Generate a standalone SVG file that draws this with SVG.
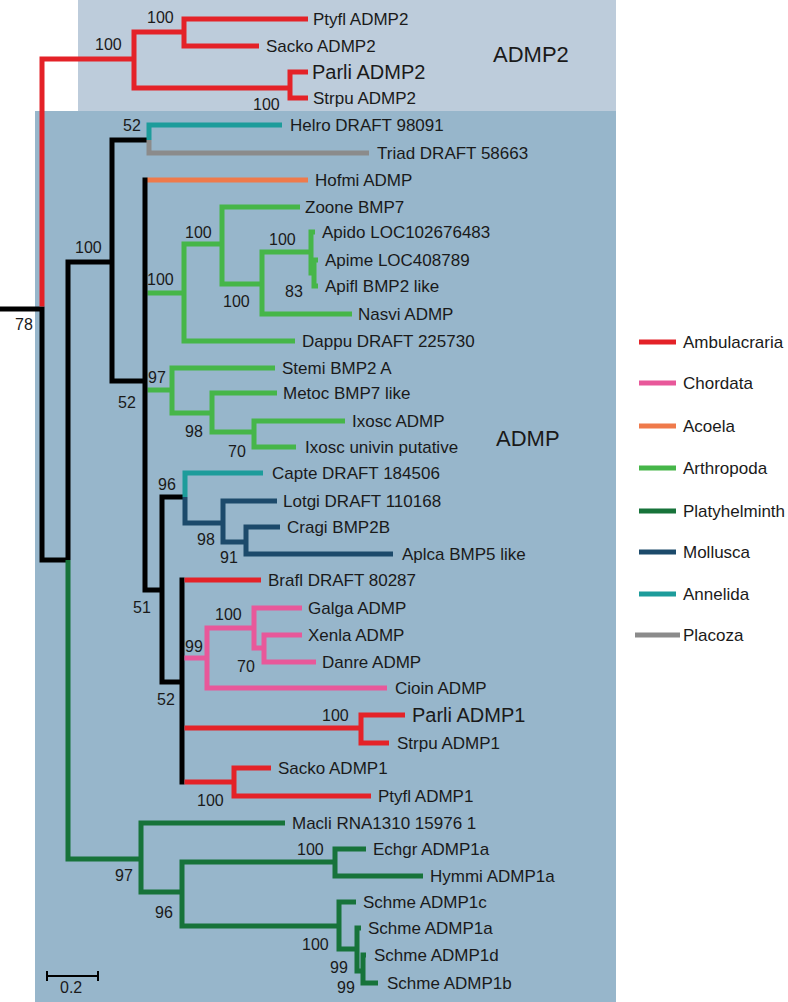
<svg xmlns="http://www.w3.org/2000/svg" width="788" height="1002" viewBox="0 0 788 1002">
<style>
text{font-family:"Liberation Sans",Arial,sans-serif;fill:#1a1a1a}
.t{font-size:17px}
.tl{font-size:20px}
.bs{font-size:16px}
.cl{font-size:22px}
.br path{fill:none;stroke-width:5;stroke-linejoin:miter;stroke-linecap:butt}
.k{stroke:#000}
.r{stroke:#e42228}
.p{stroke:#e8589a}
.o{stroke:#ef7a4b}
.g{stroke:#46b649}
.d{stroke:#17733a}
.n{stroke:#1c4a6b}
.c{stroke:#1d9c9b}
.y{stroke:#8b8b8b}
.lg{stroke-width:6}
</style>
<rect x="78" y="0" width="538" height="111" fill="#bdccdb"/>
<rect x="35" y="111" width="581" height="891" fill="#97b6cb"/>
<g id="clade-labels">
<text class="cl" x="493" y="62">ADMP2</text>
<text class="cl" x="496" y="446">ADMP</text>
</g>
<g id="branches" class="br">
<path class="k" d="M0,309 H42 V560 H68"/>
<path class="r" d="M134,59 H42 V306.5"/>
<path class="r" d="M184,32 H134 V88 H290"/>
<path class="r" d="M308,19 H184 V46 H259"/>
<path class="r" d="M308,72 H290 V98 H308"/>
<path class="k" d="M112,262 H68 V560"/>
<path class="d" d="M68,560 V859 H141"/>
<path class="k" d="M150,140 H112 V381 H145"/>
<path class="c" d="M282,125 H149 V140"/>
<path class="y" d="M369,153 H149 V140"/>
<path class="o" d="M147,180 H308"/>
<path class="g" d="M147.5,293 H184"/>
<path class="g" d="M147.5,390 H172"/>
<path class="k" d="M147.5,180 H145 V590 H162"/>
<path class="g" d="M222,244 H184 V341 H295"/>
<path class="g" d="M300,207 H222 V284 H262"/>
<path class="g" d="M311,252 H262 V314 H352"/>
<path class="g" d="M315,232 H311 V273 H314"/>
<path class="g" d="M318,260 H314 V286 H318"/>
<path class="g" d="M275,368 H172 V413 H212"/>
<path class="g" d="M277,393 H212 V432 H254"/>
<path class="g" d="M345,421 H254 V447 H296"/>
<path class="k" d="M185,497 H162 V682 H182"/>
<path class="c" d="M263,473 H185 V497"/>
<path class="n" d="M185,497 V523 H223"/>
<path class="n" d="M277,501 H223 V542 H246"/>
<path class="n" d="M280,527 H246 V554 H393"/>
<path class="k" d="M184.5,580 H182 V782 H184.5"/>
<path class="r" d="M184.5,580 H261"/>
<path class="p" d="M184.5,658 H207"/>
<path class="p" d="M254,628 H207 V688 H387"/>
<path class="p" d="M302,608 H254 V648 H264"/>
<path class="p" d="M302,635 H264 V662 H316"/>
<path class="r" d="M184.5,728 H361"/>
<path class="r" d="M405,715 H361 V743 H389"/>
<path class="r" d="M184.5,782 H234"/>
<path class="r" d="M271,768 H234 V796 H371"/>
<path class="d" d="M285,823 H141 V892 H182"/>
<path class="d" d="M335,862 H182 V926 H339"/>
<path class="d" d="M366,849 H335 V876 H423"/>
<path class="d" d="M356,902 H339 V949 H357"/>
<path class="d" d="M361,928 H357 V971 H363"/>
<path class="d" d="M366,955 H363 V983 H378"/>
</g>
<g id="tips">
<g id="tip-ptyfl-admp2"><text class="t" x="313" y="25">Ptyfl ADMP2</text></g>
<g id="tip-sacko-admp2"><text class="t" x="266" y="52">Sacko ADMP2</text></g>
<g id="tip-parli-admp2"><text class="tl" x="312" y="79">Parli ADMP2</text></g>
<g id="tip-strpu-admp2"><text class="t" x="313" y="104">Strpu ADMP2</text></g>
<g id="tip-helro"><text class="t" x="290" y="131">Helro DRAFT 98091</text></g>
<g id="tip-triad"><text class="t" x="377" y="159">Triad DRAFT 58663</text></g>
<g id="tip-hofmi"><text class="t" x="315" y="186">Hofmi ADMP</text></g>
<g id="tip-zoone"><text class="t" x="305" y="213">Zoone BMP7</text></g>
<g id="tip-apido"><text class="t" x="322" y="238">Apido LOC102676483</text></g>
<g id="tip-apime"><text class="t" x="325" y="266">Apime LOC408789</text></g>
<g id="tip-apifl"><text class="t" x="325" y="292">Apifl BMP2 like</text></g>
<g id="tip-nasvi"><text class="t" x="358" y="320">Nasvi ADMP</text></g>
<g id="tip-dappu"><text class="t" x="302" y="347">Dappu DRAFT 225730</text></g>
<g id="tip-stemi"><text class="t" x="282" y="374">Stemi BMP2 A</text></g>
<g id="tip-metoc"><text class="t" x="283" y="399">Metoc BMP7 like</text></g>
<g id="tip-ixosc-admp"><text class="t" x="352" y="427">Ixosc ADMP</text></g>
<g id="tip-ixosc-univin"><text class="t" x="305" y="453">Ixosc univin putative</text></g>
<g id="tip-capte"><text class="t" x="272" y="479">Capte DRAFT 184506</text></g>
<g id="tip-lotgi"><text class="t" x="283" y="507">Lotgi DRAFT 110168</text></g>
<g id="tip-cragi"><text class="t" x="287" y="533">Cragi BMP2B</text></g>
<g id="tip-aplca"><text class="t" x="402" y="560">Aplca BMP5 like</text></g>
<g id="tip-brafl"><text class="t" x="268" y="586">Brafl DRAFT 80287</text></g>
<g id="tip-galga"><text class="t" x="308" y="614">Galga ADMP</text></g>
<g id="tip-xenla"><text class="t" x="308" y="641">Xenla ADMP</text></g>
<g id="tip-danre"><text class="t" x="322" y="668">Danre ADMP</text></g>
<g id="tip-cioin"><text class="t" x="395" y="694">Cioin ADMP</text></g>
<g id="tip-parli-admp1"><text class="tl" x="412" y="722">Parli ADMP1</text></g>
<g id="tip-strpu-admp1"><text class="t" x="397" y="749">Strpu ADMP1</text></g>
<g id="tip-sacko-admp1"><text class="t" x="278" y="774">Sacko ADMP1</text></g>
<g id="tip-ptyfl-admp1"><text class="t" x="378" y="802">Ptyfl ADMP1</text></g>
<g id="tip-macli"><text class="t" x="292" y="829">Macli RNA1310 15976 1</text></g>
<g id="tip-echgr"><text class="t" x="373" y="855">Echgr ADMP1a</text></g>
<g id="tip-hymmi"><text class="t" x="430" y="882">Hymmi ADMP1a</text></g>
<g id="tip-schme-c"><text class="t" x="363" y="908">Schme ADMP1c</text></g>
<g id="tip-schme-a"><text class="t" x="368" y="934">Schme ADMP1a</text></g>
<g id="tip-schme-d"><text class="t" x="374" y="961">Schme ADMP1d</text></g>
<g id="tip-schme-b"><text class="t" x="387" y="989">Schme ADMP1b</text></g>
</g>
<g id="support" class="bs">
<text class="bs" x="95" y="50">100</text>
<text class="bs" x="147" y="23">100</text>
<text class="bs" x="253" y="110">100</text>
<text class="bs" x="123" y="131">52</text>
<text class="bs" x="75" y="253">100</text>
<text class="bs" x="15" y="330">78</text>
<text class="bs" x="147" y="285">100</text>
<text class="bs" x="185" y="238">100</text>
<text class="bs" x="269" y="245">100</text>
<text class="bs" x="285" y="297">83</text>
<text class="bs" x="223" y="307">100</text>
<text class="bs" x="148" y="383">97</text>
<text class="bs" x="118" y="408">52</text>
<text class="bs" x="185" y="437">98</text>
<text class="bs" x="228" y="457">70</text>
<text class="bs" x="158" y="490">96</text>
<text class="bs" x="197" y="545">98</text>
<text class="bs" x="220" y="563">91</text>
<text class="bs" x="133" y="613">51</text>
<text class="bs" x="215" y="620">100</text>
<text class="bs" x="185" y="652">99</text>
<text class="bs" x="237" y="672">70</text>
<text class="bs" x="157" y="705">52</text>
<text class="bs" x="322" y="721">100</text>
<text class="bs" x="197" y="806">100</text>
<text class="bs" x="297" y="855">100</text>
<text class="bs" x="115" y="881">97</text>
<text class="bs" x="155" y="918">96</text>
<text class="bs" x="302" y="950">100</text>
<text class="bs" x="330" y="973">99</text>
<text class="bs" x="337" y="993">99</text>
</g>
<g id="scale-bar">
<path d="M47,971 V981 M47,976 H98 M98,971 V981" fill="none" stroke="#000" stroke-width="2"/>
<text class="bs" x="60" y="993">0.2</text>
</g>
<g id="legend" class="br">
<g id="legend-ambulacraria"><path class="r lg" d="M639,342 H676"/><text class="t" x="683" y="348">Ambulacraria</text></g>
<g id="legend-chordata"><path class="p lg" d="M639,383 H676"/><text class="t" x="683" y="389">Chordata</text></g>
<g id="legend-acoela"><path class="o lg" d="M639,426 H676"/><text class="t" x="683" y="432">Acoela</text></g>
<g id="legend-arthropoda"><path class="g lg" d="M639,468 H676"/><text class="t" x="683" y="474">Arthropoda</text></g>
<g id="legend-platyhelminth"><path class="d lg" d="M639,511 H676"/><text class="t" x="683" y="517">Platyhelminth</text></g>
<g id="legend-mollusca"><path class="n lg" d="M639,552 H676"/><text class="t" x="683" y="558">Mollusca</text></g>
<g id="legend-annelida"><path class="c lg" d="M639,594 H676"/><text class="t" x="683" y="600">Annelida</text></g>
<g id="legend-placoza"><path class="y lg" d="M635,635 H680"/><text class="t" x="683" y="641">Placoza</text></g>
</g>
</svg>
